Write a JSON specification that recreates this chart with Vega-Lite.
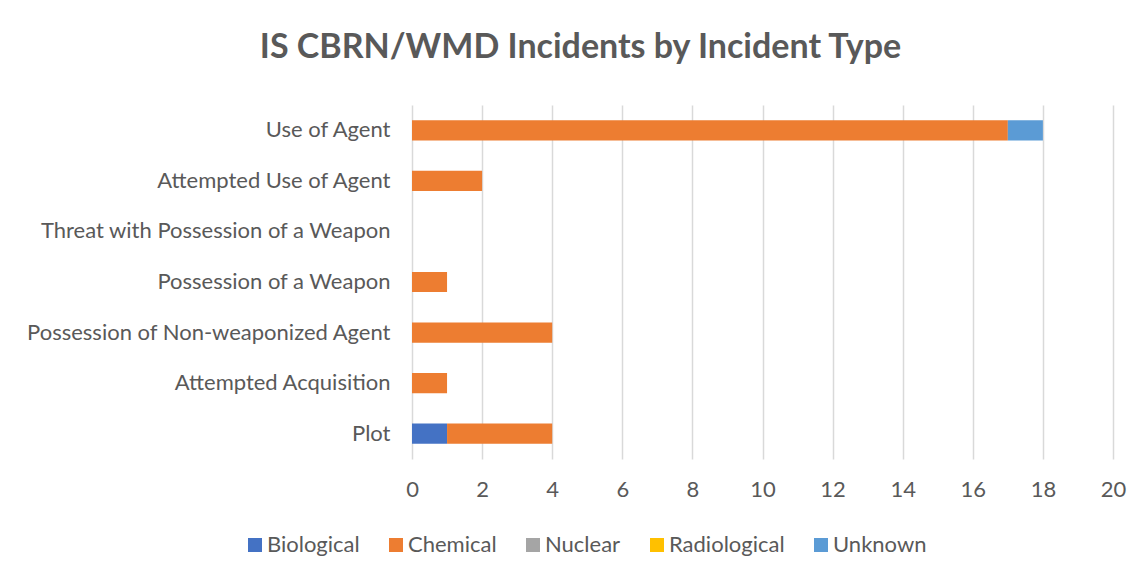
{
  "$schema": "https://vega.github.io/schema/vega-lite/v6.json",
  "width": 701,
  "height": 354,
  "autosize": {"type": "none"},
  "padding": {"left": 412, "top": 105, "right": 27, "bottom": 119},
  "background": "white",
  "title": {
    "text": "IS CBRN/WMD Incidents by Incident Type",
    "font": "Lato",
    "fontSize": 34,
    "fontWeight": "bold",
    "color": "#595959",
    "anchor": "middle",
    "frame": "group",
    "dx": -182,
    "baseline": "alphabetic",
    "offset": 13
  },
  "data": {
    "values": [
      {"type": "Use of Agent", "agent": "Chemical", "count": 17},
      {"type": "Use of Agent", "agent": "Unknown", "count": 1},
      {"type": "Attempted Use of Agent", "agent": "Chemical", "count": 2},
      {"type": "Threat with Possession of a Weapon", "agent": "Nuclear", "count": 0},
      {"type": "Possession of a Weapon", "agent": "Chemical", "count": 1},
      {"type": "Possession of Non-weaponized Agent", "agent": "Chemical", "count": 4},
      {"type": "Attempted Acquisition", "agent": "Chemical", "count": 1},
      {"type": "Attempted Acquisition", "agent": "Radiological", "count": 0},
      {"type": "Plot", "agent": "Biological", "count": 1},
      {"type": "Plot", "agent": "Chemical", "count": 3}
    ]
  },
  "mark": {"type": "bar"},
  "encoding": {
    "y": {
      "field": "type",
      "type": "nominal",
      "sort": ["Use of Agent", "Attempted Use of Agent", "Threat with Possession of a Weapon", "Possession of a Weapon", "Possession of Non-weaponized Agent", "Attempted Acquisition", "Plot"],
      "scale": {"paddingInner": 0.6, "paddingOuter": 0.3},
      "axis": {
        "title": null,
        "domain": false,
        "ticks": false,
        "labelPadding": 22,
        "labelFont": "Lato",
        "labelFontSize": 22,
        "labelColor": "#595959",
        "labelLimit": 500
      }
    },
    "x": {
      "field": "count",
      "type": "quantitative",
      "stack": "zero",
      "scale": {"domain": [0, 20], "nice": false},
      "axis": {
        "title": null,
        "values": [0, 2, 4, 6, 8, 10, 12, 14, 16, 18, 20],
        "domain": false,
        "ticks": false,
        "grid": true,
        "gridColor": "#D9D9D9",
        "gridWidth": 1.5,
        "labelFlush": false,
        "labelPadding": 20,
        "labelFont": "Lato",
        "labelFontSize": 22,
        "labelColor": "#595959"
      }
    },
    "color": {
      "field": "agent",
      "type": "nominal",
      "scale": {
        "domain": ["Biological", "Chemical", "Nuclear", "Radiological", "Unknown"],
        "range": ["#4472C4", "#ED7D31", "#A5A5A5", "#FFC000", "#5B9BD5"]
      },
      "legend": {
        "title": null,
        "orient": "none",
        "direction": "horizontal",
        "legendX": -168,
        "legendY": 429,
        "symbolType": "square",
        "symbolSize": 196,
        "symbolStrokeWidth": 0,
        "labelFont": "Lato",
        "labelFontSize": 22,
        "labelColor": "#595959",
        "labelOffset": 1,
        "columnPadding": 25
      }
    },
    "order": {"field": "agent"}
  },
  "config": {"view": {"stroke": null}}
}
